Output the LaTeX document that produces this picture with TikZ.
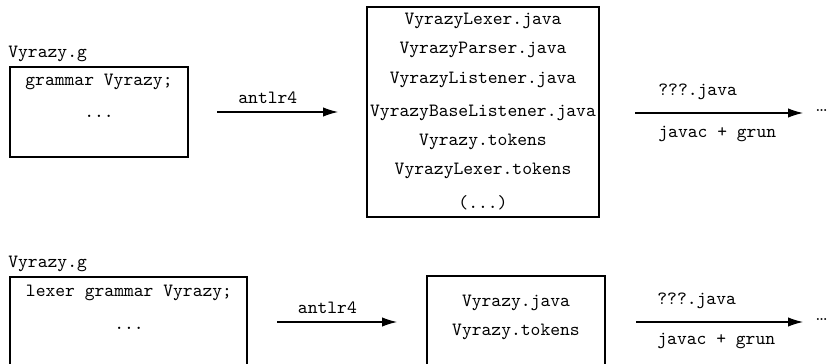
\documentclass[tikz,border=0pt]{standalone}
\usetikzlibrary{arrows.meta,fit}
\begin{document}
\begin{tikzpicture}[x=0.535pt,y=-0.535pt,
  txt/.style={font=\ttfamily, inner sep=0pt},
  box/.style={draw, line width=0.6pt, inner sep=0pt},
  arr/.style={line width=0.6pt, -{Latex[length=8pt,width=5pt]}}]
\useasboundingbox (0,0) rectangle (833,364);
\clip (0,0) rectangle (833,364);
% ---------- top row ----------
\node[txt, anchor=west] (g1) at (8,54) {Vyrazy.g};
\coordinate (b1a) at (10,67); \coordinate (b1b) at (188,157);
\node[box, fit=(b1a)(b1b)] (box1) {};
\node[txt] (t11) at (99,82) {grammar Vyrazy;};
\node[txt] (t12) at (99,116) {...};
\coordinate (a1s) at (217,112); \coordinate (a1e) at (338,112);
\draw[arr] (a1s) -- (a1e) node[txt, pos=0.42, above=4pt] (l1) {antlr4};
\coordinate (b2a) at (367,7); \coordinate (b2b) at (599,217);
\node[box, fit=(b2a)(b2b)] (box2) {};
\node[txt] (f1) at (483,21) {VyrazyLexer.java};
\node[txt] (f2) at (483,50) {VyrazyParser.java};
\node[txt] (f3) at (483,80) {VyrazyListener.java};
\node[txt] (f4) at (483,113) {VyrazyBaseListener.java};
\node[txt] (f5) at (483,142) {Vyrazy.tokens};
\node[txt] (f6) at (483,171) {VyrazyLexer.tokens};
\node[txt] (f7) at (483,203) {(...)};
\coordinate (a2s) at (635,113); \coordinate (a2e) at (803,113);
\draw[arr] (a2s) -- (a2e);
\node[txt, anchor=west] (q1) at (658,92) {???.java};
\node[txt, anchor=west] (j1) at (658,134) {javac + grun};
\node[inner sep=0pt, anchor=west, font=\rmfamily] (d1) at (815,111) {\ldots};
% ---------- bottom row ----------
\node[txt, anchor=west] (g2) at (8,264) {Vyrazy.g};
\coordinate (b3a) at (10,277); \coordinate (b3b) at (247,380);
\node[box, fit=(b3a)(b3b)] (box3) {};
\node[txt] (t31) at (129,293) {lexer grammar Vyrazy;};
\node[txt] (t32) at (129,328) {...};
\coordinate (a3s) at (277,322); \coordinate (a3e) at (397,322);
\draw[arr] (a3s) -- (a3e) node[txt, pos=0.42, above=4pt] (l3) {antlr4};
\coordinate (b4a) at (427,276); \coordinate (b4b) at (605,380);
\node[box, fit=(b4a)(b4b)] (box4) {};
\node[txt] (h1) at (516,303) {Vyrazy.java};
\node[txt] (h2) at (516,332) {Vyrazy.tokens};
\coordinate (a4s) at (636,322); \coordinate (a4e) at (803,322);
\draw[arr] (a4s) -- (a4e);
\node[txt, anchor=west] (q2) at (657,301) {???.java};
\node[txt, anchor=west] (j2) at (657,341) {javac + grun};
\node[inner sep=0pt, anchor=west, font=\rmfamily] (d2) at (815,320) {\ldots};
\end{tikzpicture}
\end{document}
